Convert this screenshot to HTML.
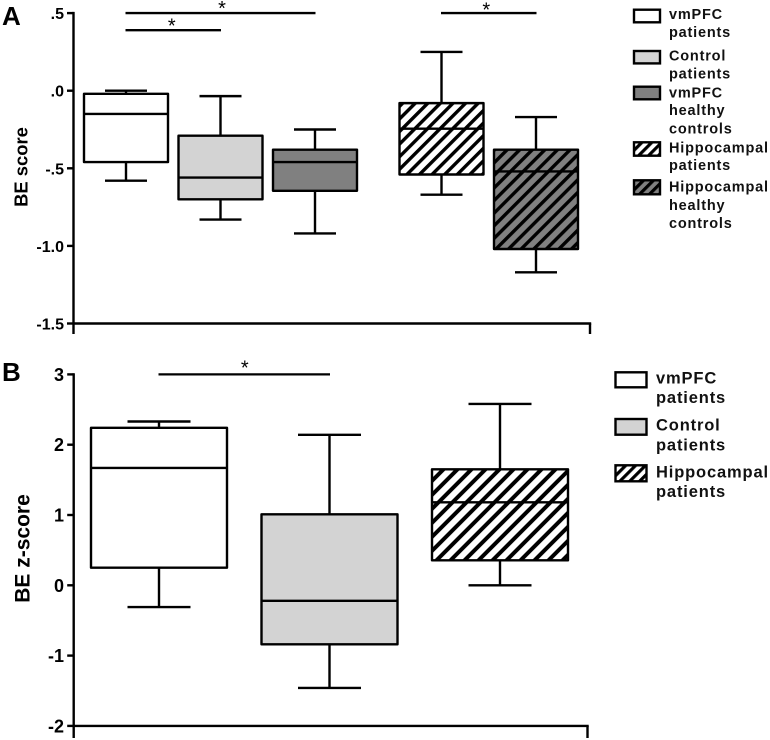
<!DOCTYPE html>
<html lang="en">
<head>
<meta charset="utf-8">
<title>BE score box plots</title>
<style>
html,body{margin:0;padding:0;background:#fff;width:770px;height:740px;overflow:hidden}
svg{display:block}
text{font-family:"Liberation Sans",sans-serif;fill:#000}
.b{font-weight:bold}
.la{font-size:14.5px;font-weight:bold;letter-spacing:0.8px;fill:#111}
.lb{font-size:16.5px;font-weight:bold;letter-spacing:0.85px;fill:#111}
</style>
</head>
<body>
<svg id="chart" xmlns="http://www.w3.org/2000/svg" width="770" height="740" viewBox="0 0 770 740">
<defs>
<pattern id="hw-a" patternUnits="userSpaceOnUse" width="8.9" height="8.9" patternTransform="rotate(45)"><rect width="8.9" height="8.9" fill="#fff"/><rect width="3.4" height="8.9" fill="#000"/></pattern>
<pattern id="hg-a" patternUnits="userSpaceOnUse" width="8.9" height="8.9" patternTransform="rotate(45)"><rect width="8.9" height="8.9" fill="#808080"/><rect width="3.4" height="8.9" fill="#000"/></pattern>
<pattern id="hw-b" patternUnits="userSpaceOnUse" width="9.9" height="9.9" patternTransform="rotate(45)"><rect width="9.9" height="9.9" fill="#fff"/><rect width="4" height="9.9" fill="#000"/></pattern>
<pattern id="hw-l" patternUnits="userSpaceOnUse" width="7" height="7" patternTransform="rotate(45)"><rect width="7" height="7" fill="#fff"/><rect width="3.2" height="7" fill="#000"/></pattern>
<pattern id="hg-l" patternUnits="userSpaceOnUse" width="7" height="7" patternTransform="rotate(45)"><rect width="7" height="7" fill="#808080"/><rect width="3.2" height="7" fill="#000"/></pattern>
</defs>

<text x="2" y="25" class="b" font-size="26">A</text>
<text x="2" y="381" class="b" font-size="26">B</text>
<text class="b" font-size="18.4" text-anchor="middle" transform="translate(27.5 167) rotate(-90)">BE score</text>
<text class="b" font-size="21" text-anchor="middle" transform="translate(29.5 548.5) rotate(-90)">BE z-score</text>

<g>
<rect x="634" y="9.7" width="26" height="12.6" fill="#fff" stroke="#000" stroke-width="2.4"/>
<text class="la"><tspan x="669" y="19">vmPFC</tspan><tspan x="669" y="37">patients</tspan></text>
<rect x="634" y="51" width="26" height="12.4" fill="#d3d3d3" stroke="#000" stroke-width="2.4"/>
<text class="la"><tspan x="669" y="60.5">Control</tspan><tspan x="669" y="78.5">patients</tspan></text>
<rect x="634" y="86.7" width="26" height="12.6" fill="#808080" stroke="#000" stroke-width="2.4"/>
<text class="la"><tspan x="669" y="97.5">vmPFC</tspan><tspan x="669" y="115">healthy</tspan><tspan x="669" y="133.5">controls</tspan></text>
<rect x="634" y="142.3" width="26" height="13.4" fill="url(#hw-l)" stroke="#000" stroke-width="2.4"/>
<text class="la"><tspan x="669" y="152.5">Hippocampal</tspan><tspan x="669" y="170">patients</tspan></text>
<rect x="634" y="180.3" width="26" height="14" fill="url(#hg-l)" stroke="#000" stroke-width="2.4"/>
<text class="la"><tspan x="669" y="191.5">Hippocampal</tspan><tspan x="669" y="210">healthy</tspan><tspan x="669" y="228">controls</tspan></text>
</g>

<g>
<rect x="615.5" y="372.3" width="31" height="15" fill="#fff" stroke="#000" stroke-width="2.4"/>
<text class="lb"><tspan x="656" y="383.5">vmPFC</tspan><tspan x="656" y="403">patients</tspan></text>
<rect x="615.5" y="419" width="31" height="15.7" fill="#d3d3d3" stroke="#000" stroke-width="2.4"/>
<text class="lb"><tspan x="656" y="430.5">Control</tspan><tspan x="656" y="450.5">patients</tspan></text>
<rect x="615.5" y="465.3" width="31" height="16" fill="url(#hw-l)" stroke="#000" stroke-width="2.4"/>
<text class="lb"><tspan x="656" y="477.5">Hippocampal</tspan><tspan x="656" y="497">patients</tspan></text>
</g>
</svg>

<script>
// Panel A data
const categoriesA = ['vmpfc-patients', 'control-patients', 'vmpfc-healthy-controls', 'hippocampal-patients', 'hippocampal-healthy-controls'];
const whiskerHighA = [0.0, -0.035, -0.25, 0.25, -0.17];
const quartile3A = [-0.02, -0.29, -0.38, -0.08, -0.38];
const medianA = [-0.15, -0.56, -0.46, -0.245, -0.52];
const quartile1A = [-0.46, -0.70, -0.645, -0.54, -1.02];
const whiskerLowA = [-0.58, -0.83, -0.92, -0.67, -1.17];
const tickValuesA = [0.5, 0, -0.5, -1, -1.5];
const tickLabelsA = ['.5', '.0', '-.5', '-1.0', '-1.5'];
const sigFromA = [0, 0, 3];
const sigToA = [2, 1, 4];
const sigLevelA = [0.5, 0.39, 0.5];

// Panel B data
const categoriesB = ['vmpfc-patients', 'control-patients', 'hippocampal-patients'];
const whiskerHighB = [2.33, 2.14, 2.58];
const quartile3B = [2.24, 1.01, 1.65];
const medianB = [1.67, -0.22, 1.18];
const quartile1B = [0.25, -0.84, 0.355];
const whiskerLowB = [-0.31, -1.46, 0];
const tickValuesB = [3, 2, 1, 0, -1, -2];
const tickLabelsB = ['3', '2', '1', '0', '-1', '-2'];
const sigFromB = [0];
const sigToB = [1];
const sigLevelB = [3];

const svg = document.getElementById('chart');
const NS = 'http://www.w3.org/2000/svg';
const LINE = 2.4;

function make(tag, attrs, parent) {
  const el = document.createElementNS(NS, tag);
  for (const k in attrs) el.setAttribute(k, attrs[k]);
  parent.appendChild(el);
  return el;
}
function seg(parent, x1, y1, x2, y2, w, name) {
  const el = make('line', {x1: x1, y1: y1, x2: x2, y2: y2, stroke: '#000', 'stroke-width': w}, parent);
  
  
  return el;
}

const yA = v => 90.7 - v * 155.2;
const xA = i => 126 + 94.5 * i + (i >= 3 ? 32 : 0);
const yB = v => 585.3 - v * 70.3;
const xB = i => 159 + 170.5 * i;

function drawPanel(p) {
  const g = make('g', {}, svg);
  
  

  p.cats.forEach(function (cat, i) {
    const bg = make('g', {}, g);
    
    
    const cx = p.x(i);
    seg(bg, cx, p.y(p.hi[i]), cx, p.y(p.q3[i]), LINE, 'upper-whisker');
    seg(bg, cx, p.y(p.q1[i]), cx, p.y(p.lo[i]), LINE, 'lower-whisker');
    seg(bg, cx - p.cap, p.y(p.hi[i]), cx + p.cap, p.y(p.hi[i]), LINE, 'upper-cap');
    seg(bg, cx - p.cap, p.y(p.lo[i]), cx + p.cap, p.y(p.lo[i]), LINE, 'lower-cap');
    const box = make('rect', {
      x: cx - p.half,
      y: p.y(p.q3[i]),
      width: p.half * 2,
      height: p.y(p.q1[i]) - p.y(p.q3[i]),
      fill: p.fills[i],
      stroke: '#000',
      'stroke-width': LINE,
      'stroke-linejoin': 'round'
    }, bg);
    
    
    seg(bg, cx - p.half, p.y(p.med[i]), cx + p.half, p.y(p.med[i]), LINE, 'median-line');
  });

  p.sigFrom.forEach(function (from, i) {
    const x1 = p.x(from), x2 = p.x(p.sigTo[i]), yy = p.y(p.sigLevel[i]);
    seg(g, x1 - 0.5, yy, x2 + 0.5, yy, p.sigW, 'significance-bar');
    const star = make('text', {x: (x1 + x2) / 2 + p.starDx[i], y: yy + p.starDy[i], 'text-anchor': 'middle', 'font-size': 20}, g);
    
    
    star.textContent = '*';
  });

  seg(g, p.axisX, p.y(p.ticks[0]) - 1.2, p.axisX, p.axisBottom, LINE, 'y-axis-line');
  const base = p.y(p.ticks[p.ticks.length - 1]);
  seg(g, p.axisX - 1, base, p.axisRight + 1.2, base, LINE, 'x-axis-line');
  seg(g, p.axisRight, base, p.axisRight, p.axisBottom, LINE, 'x-axis-end-tick');
  p.ticks.forEach(function (t, i) {
    seg(g, p.axisX - 6.5, p.y(t), p.axisX, p.y(t), LINE, 'y-axis-tick');
    const lab = make('text', {x: 64, y: p.y(t) + p.labDy, 'text-anchor': 'end', 'font-size': p.labSize, 'font-weight': 'bold'}, g);
    
    
    lab.textContent = p.labels[i];
  });
}

drawPanel({
  key: 'panel-a', cats: categoriesA, x: xA, y: yA,
  hi: whiskerHighA, q3: quartile3A, med: medianA, q1: quartile1A, lo: whiskerLowA,
  fills: ['#fff', '#d3d3d3', '#808080', 'url(#hw-a)', 'url(#hg-a)'],
  half: 42, cap: 21, ticks: tickValuesA, labels: tickLabelsA,
  sigFrom: sigFromA, sigTo: sigToA, sigLevel: sigLevelA, sigW: 2.4, starDx: [1.5, -1.5, -2.5], starDy: [2, 2.5, 3.5],
  axisX: 73.5, axisRight: 590, axisBottom: 334, labDy: 6, labSize: 16
});
drawPanel({
  key: 'panel-b', cats: categoriesB, x: xB, y: yB,
  hi: whiskerHighB, q3: quartile3B, med: medianB, q1: quartile1B, lo: whiskerLowB,
  fills: ['#fff', '#d3d3d3', 'url(#hw-b)'],
  half: 68, cap: 31.5, ticks: tickValuesB, labels: tickLabelsB,
  sigFrom: sigFromB, sigTo: sigToB, sigLevel: sigLevelB, sigW: 2.2, starDx: [0.5], starDy: [0],
  axisX: 73.7, axisRight: 587.5, axisBottom: 738, labDy: 6.5, labSize: 18
});
</script>
</body>
</html>
